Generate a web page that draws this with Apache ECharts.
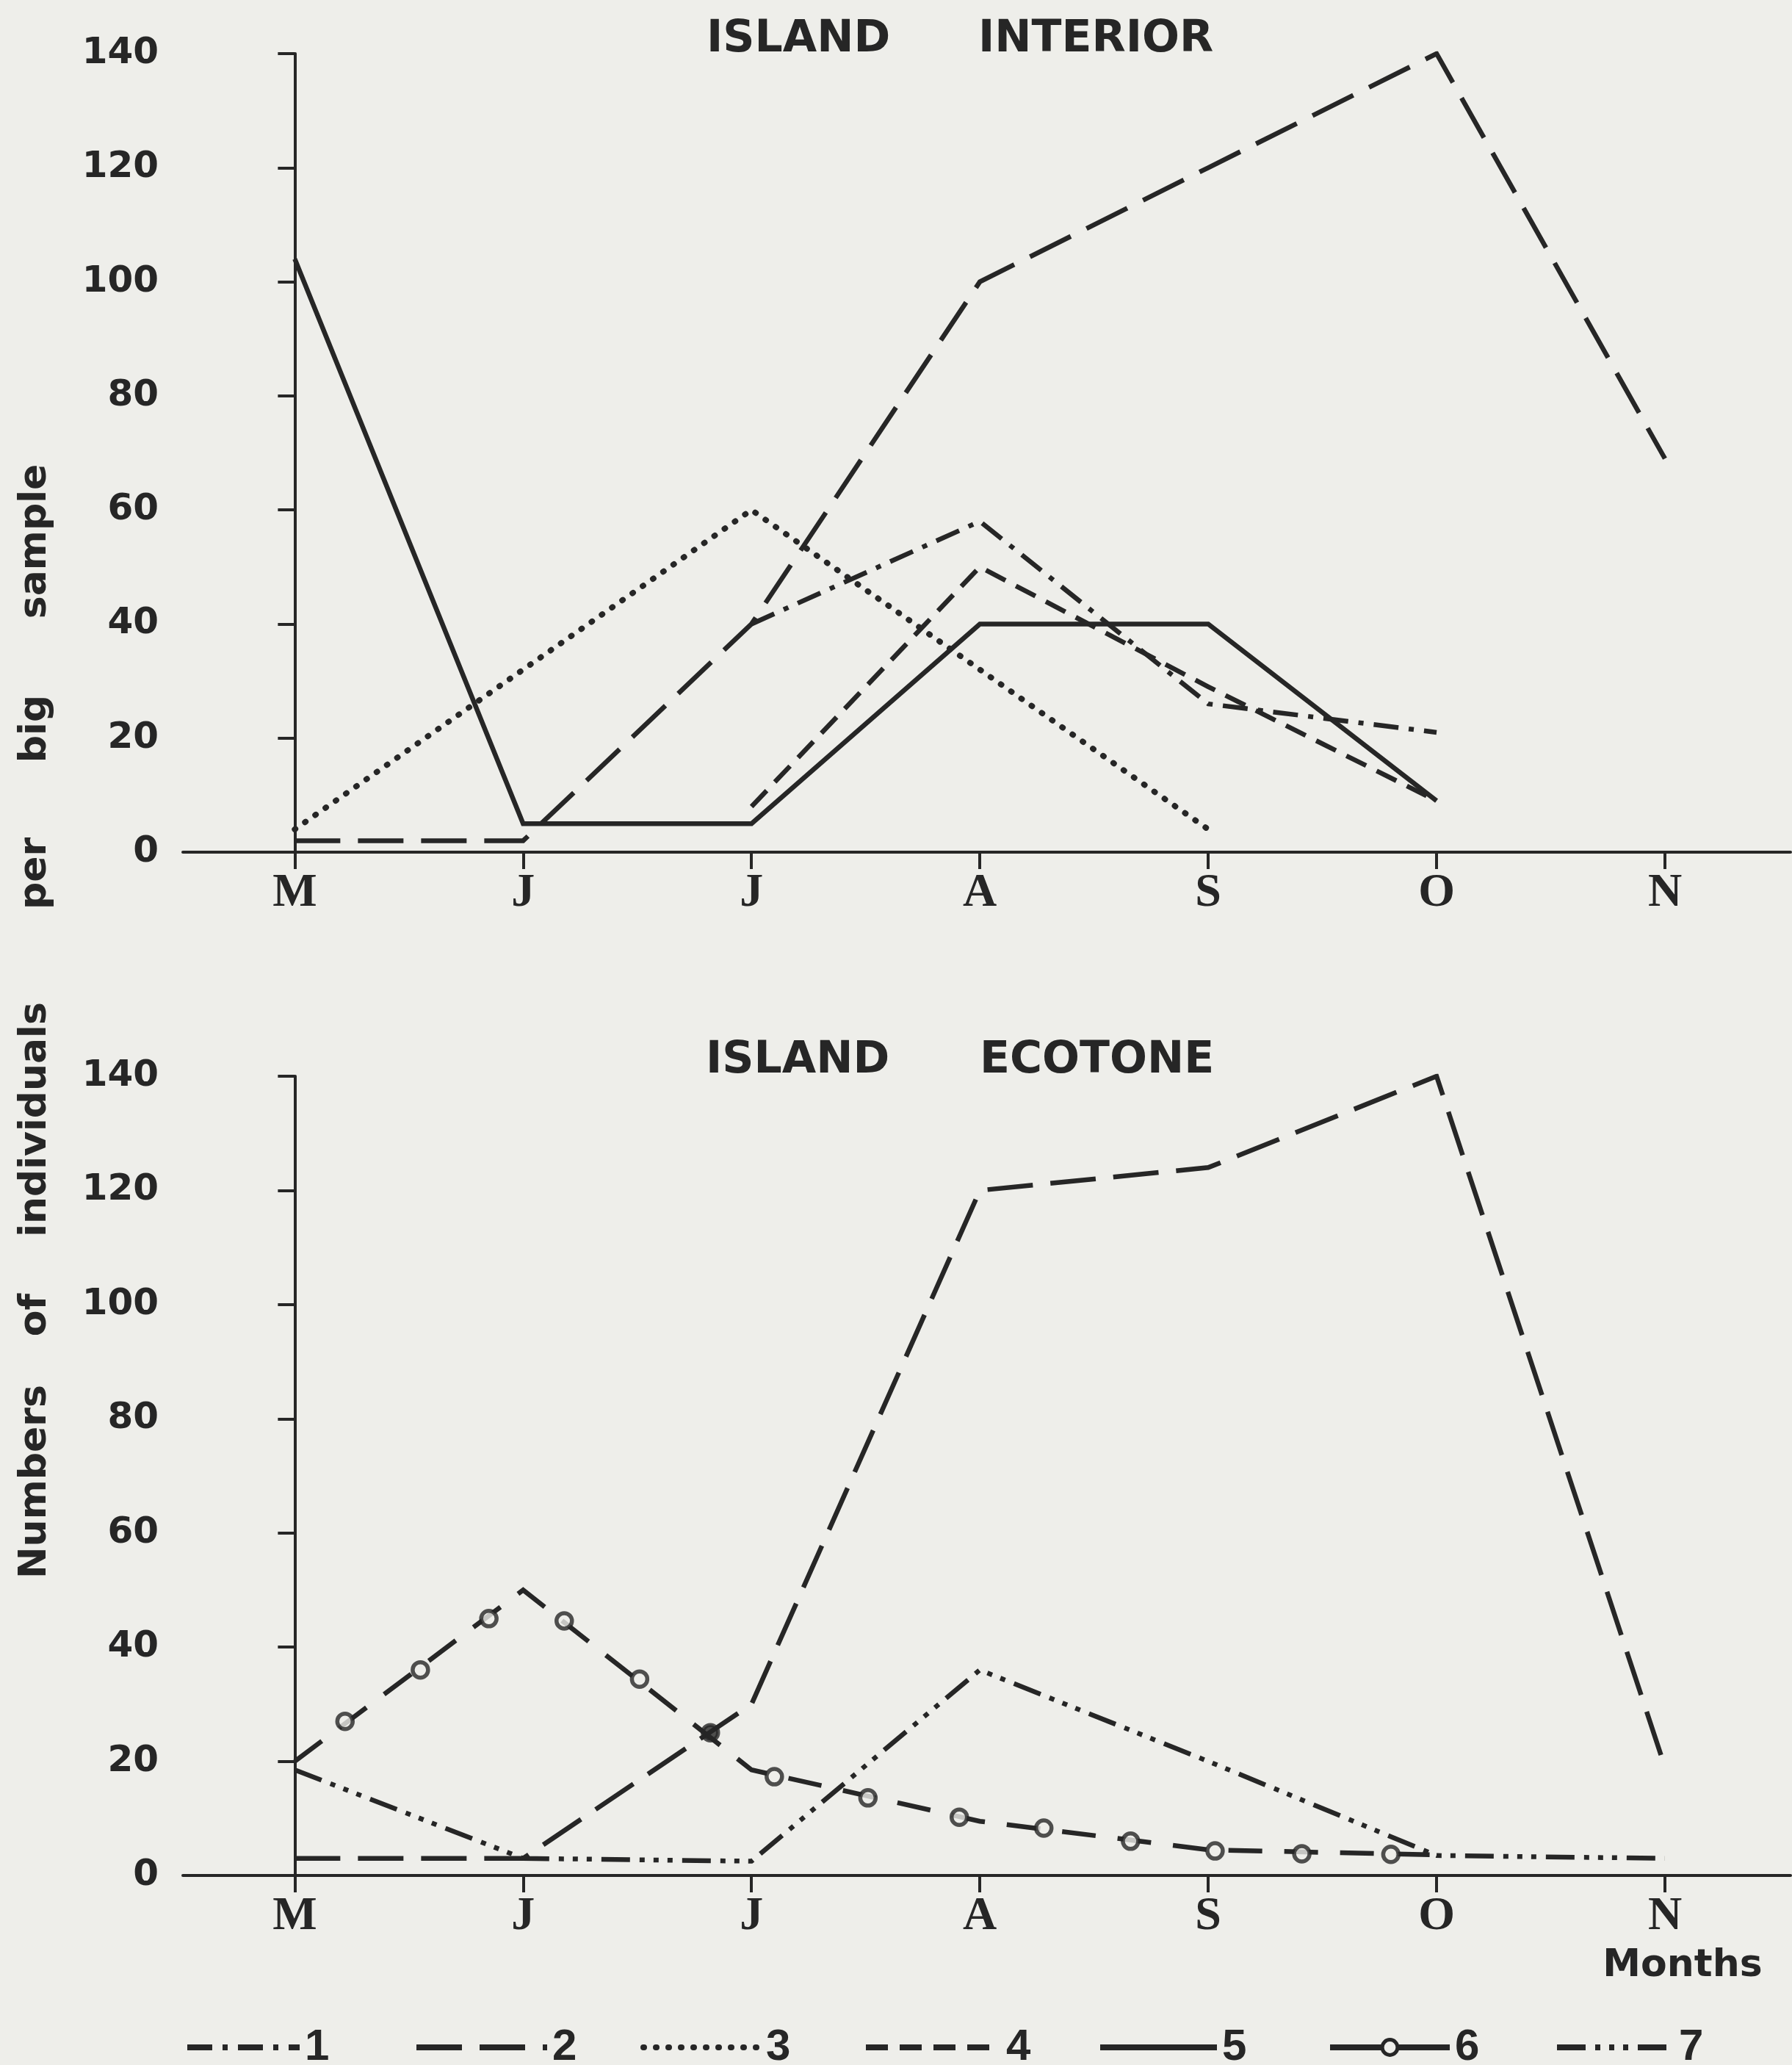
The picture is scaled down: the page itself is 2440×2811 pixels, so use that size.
<!DOCTYPE html>
<html>
<head>
<meta charset="utf-8">
<script src="https://cdn.jsdelivr.net/npm/echarts@6/dist/echarts.min.js"></script>
<style>
html,body{margin:0;padding:0;background:#eeeeea;}
#c{width:2440px;height:2811px;}
</style>
</head>
<body>
<div id="c"></div>
<script>
// ---------------- data ----------------
const months = ['M', 'J', 'J', 'A', 'S', 'O', 'N'];
const monthPositions = [0, 1, 2, 3, 4, 5, 6];
const yTicks = [0, 20, 40, 60, 80, 100, 120, 140];
const seriesNames = ['1', '2', '3', '4', '5', '6', '7'];

// ISLAND INTERIOR
const interior1 = [null, null, 40, 58, 26, 21, null];
const interior2 = [2, 2, 40, 100, 120, 140, 69];
const interior3 = [4, null, 60, null, 4, null, null];
const interior4 = [null, null, 8, 50, 29, 9, null];
const interior5 = [104, 5, 5, 40, 40, 9, null];

// ISLAND ECOTONE
const ecotone2 = [3, 3, 30, 120, 124, 140, 19];
const ecotone6 = [20, 50, 18.5, 9.5, 4.5, 3.6, null];
const ecotone7 = [18.5, 3, 2.5, 36, 20, 3.5, 3];
// open circles drawn along curve 6 (position in months, value)
const ecotone6CircleMonth = [0.22, 0.55, 0.85, 1.18, 1.51, 1.82, 2.10, 2.51, 2.91, 3.28, 3.66, 4.03, 4.41, 4.80];
const ecotone6CircleValue = [27, 36, 45, 44.6, 34.4, 25, 17.3, 13.6, 10.2, 8.3, 6, 4.3, 3.8, 3.7];
const ecotone6FilledCircle = 5;

// ---------------- styling ----------------
const BG = '#eeeeea';
const INK = '#262626';
const LW = 6.5;

const lineStyles = {
  '1': { type: [34, 14, 7, 14], width: LW },
  '2': { type: [62, 24], width: LW },
  '3': { type: [1, 16], width: 8, cap: 'round' },
  '4': { type: [30, 16], width: LW },
  '5': { type: 'solid', width: LW },
  '6': { type: [46, 30], width: LW },
  '7': { type: [39, 13, 7, 12, 7, 12, 7, 13], width: LW }
};

function pairs(arr) {
  const out = [];
  arr.forEach((v, i) => { if (v !== null) out.push([monthPositions[i], v]); });
  return out;
}

function lineSeries(name, arr, gi, extra) {
  const s = lineStyles[name];
  return Object.assign({
    type: 'line', name: name, xAxisIndex: gi, yAxisIndex: gi,
    data: pairs(arr), symbol: 'none', showSymbol: false, silent: true,
    lineStyle: { color: INK, width: s.width, type: s.type, cap: s.cap || 'butt', join: 'miter' },
    itemStyle: { color: INK }, z: 3
  }, extra || {});
}

function xAxis(gi) {
  return {
    type: 'value', gridIndex: gi, min: -0.49, max: 6.55,
    axisLine: { show: true, onZero: false, lineStyle: { color: INK, width: 4 } },
    axisTick: { show: true, customValues: monthPositions, length: 23, lineStyle: { color: INK, width: 4 } },
    axisLabel: {
      customValues: monthPositions, formatter: v => months[Math.round(v)],
      margin: 24, fontFamily: '"Liberation Serif", "DejaVu Serif", serif', fontWeight: 'bold',
      fontSize: 64, color: INK
    },
    splitLine: { show: false }
  };
}

function yAxis(gi) {
  return {
    type: 'value', gridIndex: gi, min: 0, max: 140, interval: 20,
    axisLine: { show: true, lineStyle: { color: INK, width: 4 } },
    axisTick: { show: true, length: 23, lineStyle: { color: INK, width: 4 } },
    axisLabel: {
      customValues: yTicks, margin: 33, fontFamily: '"DejaVu Sans", sans-serif', fontWeight: 'bold',
      fontSize: 50, color: INK
    },
    splitLine: { show: false }
  };
}

const series = [
  lineSeries('2', interior2, 0),
  lineSeries('1', interior1, 0),
  lineSeries('3', interior3, 0),
  lineSeries('4', interior4, 0),
  lineSeries('5', interior5, 0),
  lineSeries('6', ecotone6, 1, {
    symbol: 'circle', symbolSize: 22, showSymbol: false,
    itemStyle: { color: BG, borderColor: INK, borderWidth: 5 }
  }),
  lineSeries('2', ecotone2, 1),
  lineSeries('7', ecotone7, 1),
  {
    type: 'scatter', name: '6 circles', xAxisIndex: 1, yAxisIndex: 1, silent: true, z: 5,
    symbol: 'circle', symbolSize: 21,
    itemStyle: { color: BG, borderColor: INK, borderWidth: 5.5 },
    data: ecotone6CircleMonth.map((m, i) => {
      const item = { value: [m, ecotone6CircleValue[i]] };
      if (i === ecotone6FilledCircle) item.itemStyle = { color: INK };
      return item;
    })
  }
];

const legendLayout = [
  { left: 246, w: 153 },
  { left: 558, w: 178 },
  { left: 867, w: 160 },
  { left: 1170, w: 184 },
  { left: 1489, w: 159 },
  { left: 1802, w: 163 },
  { left: 2111, w: 159 }
];

const legends = seriesNames.map((name, i) => ({
  data: [name], left: legendLayout[i].left, top: 2752,
  itemWidth: legendLayout[i].w, itemHeight: 26, itemGap: 0, selectedMode: false,
  textStyle: { fontFamily: '"Liberation Sans Narrow", "Liberation Sans", sans-serif', fontWeight: 'bold', fontSize: 60, color: INK, padding: [0, 0, 0, 2] },
  itemStyle: name === '6' ? { color: BG, borderColor: INK, borderWidth: 5 } : { opacity: 0 },
  lineStyle: name === '6' ? { width: 8, type: 'solid' } : { width: 8 }
}));

const wordFont = 'bold 52px "DejaVu Sans", sans-serif';
const titleFont = 'bold 60px "DejaVu Sans", sans-serif';
const yNameWords = [
  { t: 'sample', y: 737 }, { t: 'big', y: 992 }, { t: 'per', y: 1189 },
  { t: 'individuals', y: 1524 }, { t: 'of', y: 1790 }, { t: 'Numbers', y: 2017 }
];

const graphic = [
  { type: 'text', x: 962, y: 54, style: { text: 'ISLAND', font: titleFont, fill: INK, align: 'left', verticalAlign: 'middle' } },
  { type: 'text', x: 1332, y: 54, style: { text: 'INTERIOR', font: titleFont, fill: INK, align: 'left', verticalAlign: 'middle' } },
  { type: 'text', x: 961, y: 1444, style: { text: 'ISLAND', font: titleFont, fill: INK, align: 'left', verticalAlign: 'middle' } },
  { type: 'text', x: 1334, y: 1444, style: { text: 'ECOTONE', font: titleFont, fill: INK, align: 'left', verticalAlign: 'middle' } },
  { type: 'text', x: 2291, y: 2676, style: { text: 'Months', font: wordFont, fill: INK, align: 'center', verticalAlign: 'middle' } }
].concat(yNameWords.map(w => ({
  type: 'text', x: 48, y: w.y, rotation: Math.PI / 2,
  style: { text: w.t, font: wordFont, fill: INK, align: 'center', verticalAlign: 'middle' }
})));

const chart = echarts.init(document.getElementById('c'), null, { renderer: 'canvas' });
chart.setOption({
  backgroundColor: BG,
  animation: false,
  grid: [
    { left: 249, top: 73, width: 2189, height: 1087 },
    { left: 249, top: 1465, width: 2189, height: 1088 }
  ],
  xAxis: [xAxis(0), xAxis(1)],
  yAxis: [yAxis(0), yAxis(1)],
  legend: legends,
  graphic: graphic,
  series: series
});
</script>
</body>
</html>
